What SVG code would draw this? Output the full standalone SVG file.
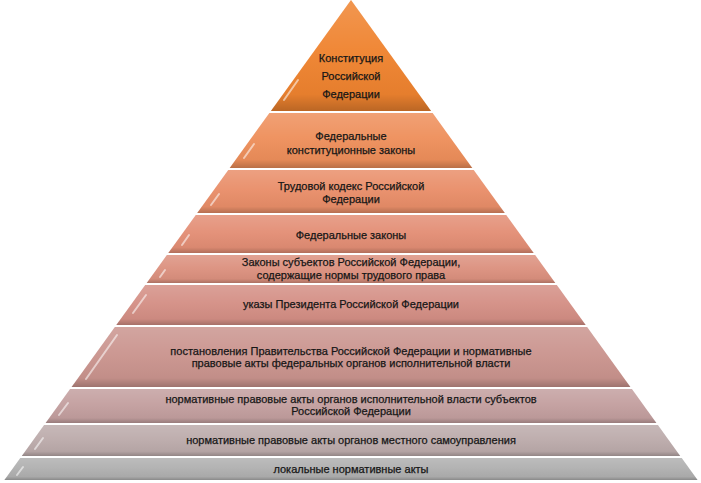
<svg xmlns="http://www.w3.org/2000/svg" width="701" height="483" viewBox="0 0 701 483">
<style>
  text { font-family: "Liberation Sans", Arial, sans-serif; font-size: 11px; fill: #161616; stroke: #161616; stroke-width: 0.25; text-anchor: middle; }
  .ov { fill: url(#shade); }
  .hl { stroke: #ffffff; stroke-opacity: 0.55; stroke-width: 2; stroke-linecap: round; fill: none; }
  .edge { stroke: #000000; stroke-opacity: 0.1; stroke-width: 4; fill: none; }
</style>
<defs>
  <linearGradient id="shade" x1="0" y1="0" x2="0" y2="1">
    <stop offset="0" stop-color="#ffffff" stop-opacity="0.16"/>
    <stop offset="0.45" stop-color="#ffffff" stop-opacity="0.04"/>
    <stop offset="0.85" stop-color="#000000" stop-opacity="0.04"/>
    <stop offset="1" stop-color="#000000" stop-opacity="0.22"/>
  </linearGradient>
</defs>
<rect width="701" height="483" fill="#ffffff"/>
<g id="layer1">
  <polygon points="351,0 431.1,111 270.9,111" fill="#EF832F"/>
  <polygon class="ov" points="351,0 431.1,111 270.9,111"/>
  <text x="351" y="62">Конституция</text>
  <text x="351" y="80">Российской</text>
  <text x="351" y="98">Федерации</text>
</g>
<g id="layer2">
  <polygon points="269.4,113 432.6,113 472.3,168 229.7,168" fill="#EE8F5B"/>
  <polygon class="ov" points="269.4,113 432.6,113 472.3,168 229.7,168"/>
  <text x="351" y="140">Федеральные</text>
  <text x="351" y="154">конституционные законы</text>
</g>
<g id="layer3">
  <polygon points="228.3,170 473.7,170 504.8,213 197.2,213" fill="#E98E69"/>
  <polygon class="ov" points="228.3,170 473.7,170 504.8,213 197.2,213"/>
  <text x="351" y="190">Трудовой кодекс Российской</text>
  <text x="351" y="203">Федерации</text>
</g>
<g id="layer4">
  <polygon points="195.8,215 506.2,215 533.7,253 168.3,253" fill="#E38E75"/>
  <polygon class="ov" points="195.8,215 506.2,215 533.7,253 168.3,253"/>
  <text x="351" y="239">Федеральные законы</text>
</g>
<g id="layer5">
  <polygon points="166.9,255 535.1,255 555.3,283 146.7,283" fill="#DC917F"/>
  <polygon class="ov" points="166.9,255 535.1,255 555.3,283 146.7,283"/>
  <text x="351" y="266">Законы субъектов Российской Федерации,</text>
  <text x="351" y="279">содержащие нормы трудового права</text>
</g>
<g id="layer6">
  <polygon points="145.2,285 556.8,285 585.7,325 116.3,325" fill="#D48F85"/>
  <polygon class="ov" points="145.2,285 556.8,285 585.7,325 116.3,325"/>
  <text x="351" y="308">указы Президента Российской Федерации</text>
</g>
<g id="layer7">
  <polygon points="114.9,327 587.1,327 630.4,387 71.6,387" fill="#CA948E"/>
  <polygon class="ov" points="114.9,327 587.1,327 630.4,387 71.6,387"/>
  <text x="351" y="355">постановления Правительства Российской Федерации и нормативные</text>
  <text x="351" y="367">правовые акты федеральных органов исполнительной власти</text>
</g>
<g id="layer8">
  <polygon points="70.1,389 631.9,389 656.4,423 45.6,423" fill="#C39F9F"/>
  <polygon class="ov" points="70.1,389 631.9,389 656.4,423 45.6,423"/>
  <text x="351" y="403">нормативные правовые акты органов исполнительной власти субъектов</text>
  <text x="351" y="415">Российской Федерации</text>
</g>
<g id="layer9">
  <polygon points="44.1,425 657.9,425 680.2,456 21.8,456" fill="#BCABAB"/>
  <polygon class="ov" points="44.1,425 657.9,425 680.2,456 21.8,456"/>
  <text x="351" y="444">нормативные правовые акты органов местного самоуправления</text>
</g>
<g id="layer10">
  <polygon points="20.3,458 681.7,458 697.6,480 4.4,480" fill="#B0B0B0"/>
  <polygon class="ov" points="20.3,458 681.7,458 697.6,480 4.4,480"/>
  <text x="351" y="473">локальные нормативные акты</text>
</g>
<g id="highlights">
  <line class="hl" x1="284" y1="100" x2="298" y2="80"/>
  <line class="hl" x1="244" y1="158" x2="254" y2="144"/>
  <line class="hl" x1="211" y1="205" x2="219" y2="194"/>
  <line class="hl" x1="182" y1="245" x2="189" y2="235"/>
  <line class="hl" x1="160" y1="277" x2="165" y2="270"/>
  <line class="hl" x1="133" y1="313" x2="146" y2="295"/>
  <line class="hl" x1="86" y1="379" x2="117" y2="335"/>
  <line class="hl" x1="59" y1="415" x2="68" y2="403"/>
  <line class="hl" x1="35" y1="449" x2="43" y2="438"/>
  <line class="hl" x1="17" y1="475" x2="23" y2="467"/>
</g>
</svg>
